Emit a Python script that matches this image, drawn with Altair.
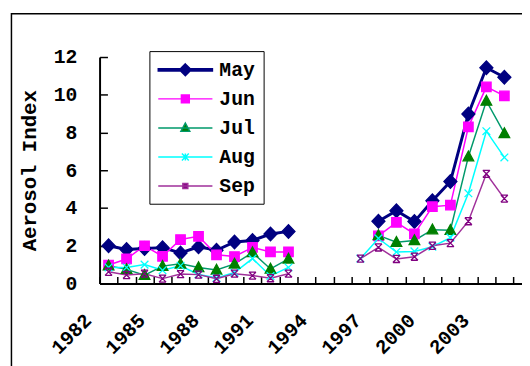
import altair as alt
import pandas as pd

FONT = "Liberation Mono"

months = ["May", "Jun", "Jul", "Aug", "Sep"]

years_a = [1982, 1983, 1984, 1985, 1986, 1987, 1988, 1989, 1990, 1991, 1992]
may_a = [2.0, 1.8, 1.85, 1.9, 1.62, 1.94, 1.76, 2.2, 2.28, 2.62, 2.76]
jun_a = [0.98, 1.3, 2.0, 1.44, 2.33, 2.5, 1.52, 1.43, 1.91, 1.67, 1.67]
jul_a = [0.94, 0.75, 0.44, 0.92, 1.04, 0.85, 0.72, 1.04, 1.64, 0.77, 1.3]
aug_a = [0.85, 0.85, 1.0, 0.7, 0.94, 0.48, 0.3, 0.58, 1.32, 0.4, 0.85]
sep_a = [0.62, 0.45, 0.52, 0.26, 0.5, 0.47, 0.25, 0.52, 0.42, 0.28, 0.52]

years_b = [1996, 1997, 1998, 1999, 2000, 2001, 2002, 2003, 2004]
may_b = [None, 3.3, 3.85, 3.28, 4.38, 5.4, 8.98, 11.43, 10.93]
jun_b = [None, 2.52, 3.24, 2.63, 4.07, 4.15, 8.3, 10.42, 9.94]
jul_b = [None, 2.55, 2.19, 2.28, 2.85, 2.82, 6.72, 9.67, 7.95]
aug_b = [1.32, 2.39, 1.67, 1.7, 1.95, 2.43, 4.78, 8.07, 6.68]
sep_b = [1.32, 1.91, 1.3, 1.42, 2.0, 2.14, 3.3, 5.81, 4.5]

label_years = [1982, 1985, 1988, 1991, 1994, 1997, 2000, 2003]
y_ticks = [0, 2, 4, 6, 8, 10, 12]
category_edges = [y - 0.5 for y in range(1982, 2006)]

series_a = [may_a, jun_a, jul_a, aug_a, sep_a]
series_b = [may_b, jun_b, jul_b, aug_b, sep_b]

rows = []
for m, va, vb in zip(months, series_a, series_b):
    for yr, v in zip(years_a, va):
        rows.append({"month": m, "year": yr, "value": v, "seg": "a"})
    for yr, v in zip(years_b, vb):
        if v is not None:
            rows.append({"month": m, "year": yr, "value": v, "seg": "b"})
df = pd.DataFrame(rows)

legend_df = pd.DataFrame({"month": months, "year": [None] * 5, "value": [None] * 5})

line_colors = ["#000080", "#ff00ff", "#00996b", "#00ffff", "#a0309a"]
marker_colors = ["#000080", "#ff00ff", "#007f00", "#00ffff", "#800080"]

marker_paths = [
    "M0,-1.15L1.1,0L0,1.15L-1.1,0Z",
    "M-0.8,-0.8H0.8V0.8H-0.8Z",
    "M0,-0.95L0.9,0.7H-0.9Z",
    "M-0.65,-0.65L0.65,0.65M-0.65,0.65L0.65,-0.65",
    "M-0.6,-0.6L0.6,0.6M-0.6,0.6L0.6,-0.6M-0.6,-0.6H0.6M-0.6,0.6H0.6",
]
legend_paths = [
    "M-1,-0.12H4.5V0.12H-1ZM1.75,-0.6L2.35,0L1.75,0.6L1.15,0Z",
    "M-1,0H4.5M1.35,-0.4H2.15V0.4H1.35Z",
    "M-1,0H4.5M1.75,-0.5L2.2,0.35H1.3Z",
    "M-1,0H4.5M1.4,-0.35L2.1,0.35M1.4,0.35L2.1,-0.35M1.75,-0.35V0.35",
    "M-1,0H4.5M1.5,-0.25H2V0.25H1.5Z",
]

W, H = 429, 230
X0, X1, Y0, Y1 = 1981.5, 2004.98, 0, 12
xscale = alt.Scale(domain=[X0, X1], nice=False, zero=False)
yscale = alt.Scale(domain=[Y0, Y1], nice=False, zero=True)

label_list = ",".join(str(y) for y in label_years)
xaxis = alt.Axis(values=category_edges,
                 labelExpr=f"indexof([{label_list}], datum.value + 0.5) >= 0 ? format(datum.value + 0.5, 'd') : ''",
                 labelAngle=315, labelAlign="right", labelBaseline="top",
                 labelOffset=-19, labelPadding=27, ticks=False,
                 labelFont=FONT, labelFontSize=20, labelFontWeight="bold",
                 labelColor="black",
                 labelOverlap=False, domainColor="black", domainWidth=2,
                 grid=True, gridColor="black", gridWidth=1.5, gridOpacity=1,
                 gridDash=[0, H - 7, 7, 1000])
yaxis = alt.Axis(values=y_ticks, ticks=False, labelPadding=23,
                 labelFont=FONT, labelFontSize=20, labelFontWeight="bold",
                 labelColor="black",
                 domainColor="black", domainWidth=2,
                 grid=True, gridColor="black", gridWidth=1.5, gridOpacity=1,
                 gridDash=[8, 1000],
                 titleFont=FONT, titleFontSize=21, titleFontWeight="bold",
                 titleColor="black", titleAngle=270, titleX=-71, titleY=H / 2,
                 titleAlign="center", titleBaseline="middle")
YTITLE = "Aerosol Index"


def X(field):
    return alt.X(field, scale=xscale, axis=xaxis, title=None)


def Y(field):
    return alt.Y(field, scale=yscale, axis=yaxis, title=YTITLE)


frame = alt.Chart(pd.DataFrame({"k": [0]})).mark_rect(
    fillOpacity=0, stroke="black", strokeWidth=1.5
).encode(
    x=alt.value(-89.5), x2=alt.value(W + 40),
    y=alt.value(-44), y2=alt.value(H + 140),
)

lines = alt.Chart(df).mark_line().encode(
    x=X("year:Q"),
    y=Y("value:Q"),
    color=alt.Color("month:N", scale=alt.Scale(domain=months, range=line_colors), legend=None),
    detail="seg:N",
    strokeWidth=alt.condition(alt.datum.month == "May", alt.value(3), alt.value(1.5)),
)

points = alt.Chart(df).mark_point(filled=True, size=144, strokeWidth=1.3, opacity=1).encode(
    x=X("year:Q"),
    y=Y("value:Q"),
    fill=alt.Fill("month:N", scale=alt.Scale(domain=months, range=marker_colors), legend=None),
    stroke=alt.Stroke("month:N", scale=alt.Scale(domain=months, range=marker_colors), legend=None),
    shape=alt.Shape("month:N", scale=alt.Scale(domain=months, range=marker_paths), legend=None),
)

leg = alt.Legend(title=None, orient="none", legendX=50.6, legendY=-6,
                 labelFont=FONT, labelFontSize=20, labelFontWeight="bold", labelColor="black",
                 symbolSize=400, symbolStrokeWidth=1.5, symbolOpacity=1,
                 labelOffset=41, rowPadding=8.5, padding=8,
                 strokeColor="black", fillColor="white")

legend_layer = alt.Chart(legend_df).mark_point(filled=True, size=400, strokeWidth=1.5, opacity=1).encode(
    x=X("year:Q"),
    y=Y("value:Q"),
    fill=alt.Fill("month:N", scale=alt.Scale(domain=months, range=marker_colors), legend=leg),
    stroke=alt.Stroke("month:N", scale=alt.Scale(domain=months, range=line_colors), legend=leg),
    shape=alt.Shape("month:N", scale=alt.Scale(domain=months, range=legend_paths), legend=leg),
)

chart = alt.layer(frame, lines, points, legend_layer).resolve_scale(
    color="independent", fill="independent", stroke="independent", shape="independent"
).properties(
    width=W, height=H,
    autosize=alt.AutoSizeParams(type="none"),
    padding={"left": 93, "top": 47, "right": 0, "bottom": 81},
    background="white",
).configure_view(stroke=None)

chart.save("out.html", embed_options={"renderer": "svg", "actions": False})
